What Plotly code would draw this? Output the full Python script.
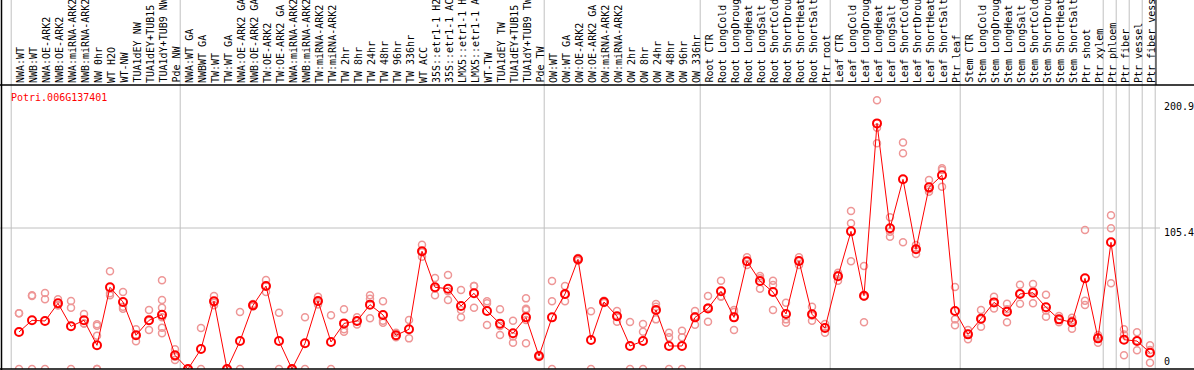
import plotly.graph_objects as go

gene = "Potri.006G137401"

labels = [
    "NWA:WT", "NWB:WT", "NWA:OE-ARK2", "NWB:OE-ARK2", "NWA:miRNA-ARK2", "NWB:miRNA-ARK2",
    "NW 0hr", "WT H2O", "WT-NW", "TUA1dEY NW", "TUA1dEY+TUB15", "TUA1dY+TUB9 NW", "Pde NW",
    "NWA:WT GA", "NWBWT GA", "TW:WT", "TW:WT GA", "NWA:OE-ARK2 GA", "NWB:OE-ARK2 GA",
    "TW:OE-ARK2", "TW:OE-ARK2 GA", "NWA:miRNA-ARK2", "NWB:miRNA-ARK2", "TW:miRNA-ARK2",
    "TW:miRNA-ARK2", "TW 2hr", "TW 8hr", "TW 24hr", "TW 48hr", "TW 96hr", "TW 336hr",
    "WT ACC", "35S::etr1-1 H2", "35S::etr1-1 AC", "LMX5::etr1-1 H", "LMX5::etr1-1 A",
    "WT-TW", "TUA1dEY TW", "TUA1dEY+TUB15", "TUA1dY+TUB9 TW", "Pde TW",
    "OW:WT", "OW:WT GA", "OW:OE-ARK2", "OW:OE-ARK2 GA", "OW:miRNA-ARK2", "OW:miRNA-ARK2",
    "OW 2hr", "OW 8hr", "OW 24hr", "OW 48hr", "OW 96hr", "OW 336hr",
    "Root CTR", "Root LongCold", "Root LongDroug", "Root LongHeat", "Root LongSalt",
    "Root ShortCold", "Root ShortDrou", "Root ShortHeat", "Root ShortSalt", "Ptr root",
    "Leaf CTR", "Leaf LongCold", "Leaf LongDroug", "Leaf LongHeat", "Leaf LongSalt",
    "Leaf ShortCold", "Leaf ShortDrou", "Leaf ShortHeat", "Leaf ShortSalt", "Ptr leaf",
    "Stem CTR", "Stem LongCold", "Stem LongDroug", "Stem LongHeat", "Stem LongSalt",
    "Stem ShortCold", "Stem ShortDrou", "Stem ShortHeat", "Stem ShortSalt", "Ptr shoot",
    "Ptr xylem", "Ptr phloem", "Ptr fiber", "Ptr vessel", "Ptr fiber vessel",
]

means = [
    27.7, 36.4, 35.9, 49.1, 31.9, 36.4, 17.7, 61.1, 50.1, 25.2, 36.4, 40.6, 10.2,
    0, 14.9, 50.6, 0, 20.9, 47.6, 62.0, 20.9, 0, 19.2, 50.8, 20.2, 34.1, 35.9, 48.1,
    40.4, 25.2, 29.7, 88.0, 61.1, 60.0, 47.1, 56.6, 43.3, 33.9, 26.7, 38.6, 9.7,
    38.6, 56.1, 82.0, 21.7, 50.1, 39.4, 17.2, 20.9, 44.1, 17.2, 17.2, 38.6,
    45.3, 58.1, 38.6, 80.5, 65.8, 57.5, 41.1, 80.7, 40.9, 30.6,
    69.3, 102.9, 54.8, 183.6, 105.2, 141.8, 89.5, 135.8, 144.8, 43.3,
    25.9, 37.6, 49.8, 42.8, 56.1, 57.0, 46.1, 37.1, 34.9, 67.8, 22.9,
    94.7, 21.9, 20.9, 12.2,
]

replicates = [
    [41.6, 41.6, 0], [55.1, 54.6, 0], [56.8, 52.1, 0], [52.1, 47.6, 47.6], [50.8, 45.8, 0],
    [41.1, 34.1, 34.0], [33.4, 32.4, 24.9, 0, 0], [73.0, 56.6, 55.1], [57.5, 46.6, 45.1],
    [29.7, 25.2, 20.7], [44.1, 36.0, 29.1], [66.3, 51.6, 45.8, 38.6, 30.9, 26.7],
    [14.7, 9.2, 6.7], [0, 0, 0], [30.6, 0], [54.6, 49.6, 47.6], [0, 0, 0], [42.6, 0],
    [48.5, 47.6, 46.7], [66.5, 57.5, 62.0], [42.1, 0], [0, 0, 0], [38.6, 0],
    [54.0, 50.1, 48.3], [40.1, 0], [44.6, 29.8, 27.9], [38.6, 35.9, 33.2],
    [55.1, 52.5, 37.9], [50.6, 36.1, 34.6], [27.1, 24.7, 23.8], [36.6, 22.9],
    [92.9, 87.2, 83.9], [68.0, 60.2, 55.1], [70.3, 58.1, 51.6], [59.0, 44.1, 38.6],
    [62.0, 62.0, 45.8], [50.6, 49.1, 32.9], [44.6, 32.1, 25.4], [36.1, 24.3, 19.7],
    [52.8, 45.1, 44.1, 36.6, 19.2], [10.5, 9.7, 9.0], [65.8, 50.6, 0], [62.0, 55.7, 50.6],
    [83.0, 82.0, 81.0], [43.1, 0], [51.0, 50.0, 49.3], [43.3, 39.5, 35.4], [35.1, 0],
    [33.6, 27.9, 0], [48.6, 46.6, 37.1], [27.1, 23.7, 0], [28.6, 23.7, 0],
    [43.3, 39.4, 33.1], [54.6, 45.9, 35.4], [66.0, 54.3, 54.0], [44.1, 42.6, 29.1],
    [83.5, 80.5, 77.7], [69.5, 67.8, 60.0], [66.0, 62.8, 44.1], [49.6, 37.1, 34.6],
    [83.5, 80.7, 77.8], [46.6, 40.0, 36.1], [33.6, 31.2, 27.1],
    [72.0, 70.5, 66.0], [118.1, 108.9, 80.5], [77.0, 54.0, 34.9], [200.9, 180.3, 168.7],
    [113.4, 102.6, 98.9], [169.4, 161.2, 94.7], [92.7, 89.9, 85.9], [141.3, 134.3, 132.5],
    [150.0, 148.7, 136.2], [61.3, 37.1, 32.7],
    [29.1, 26.4, 22.2], [44.1, 37.1, 31.6], [54.0, 50.1, 45.3], [48.8, 44.7, 34.9],
    [63.0, 56.5, 48.8], [63.5, 58.4, 49.1], [55.5, 43.7, 39.1], [39.6, 36.8, 34.9],
    [38.3, 36.3, 30.1], [103.9, 51.0, 47.8], [25.4, 23.6, 19.7],
    [114.9, 105.2, 64.1], [29.7, 25.8, 10.2], [27.4, 21.3, 14.0], [17.7, 14.2, 4.7],
]

# last column index of each group before a separator (0 = before the first column)
group_breaks = [0, 13, 41, 53, 63, 73, 84, 85, 86, 87, 88]
y_ticks = [0, 105.4, 200.9]
y_tick_text = ["0", "105.4", "200.9"]

W, H = 1194, 370
TOP, BOT = 85, 1
YMAX = 212.3
STEP = 13.0
X0 = 1 - 19 / STEP
X1 = X0 + W / STEP
top_paper = (H - BOT) / (H - TOP - BOT)

xs = list(range(1, len(means) + 1))
rep_x, rep_y = [], []
for i, reps in zip(xs, replicates):
    for v in reps:
        rep_x.append(i)
        rep_y.append(v)

fig = go.Figure()
fig.add_trace(go.Scatter(
    x=rep_x, y=rep_y, mode="markers",
    marker=dict(symbol="circle-open", size=7, color="rgb(238,150,150)",
                line=dict(width=1.5, color="rgb(238,150,150)")),
    hoverinfo="skip", showlegend=False,
))
fig.add_trace(go.Scatter(
    x=xs, y=means, mode="lines+markers",
    line=dict(color="#ff0000", width=1),
    marker=dict(symbol="circle-open", size=8, color="#ff0000",
                line=dict(width=2, color="#ff0000")),
    showlegend=False,
))

shapes = []
grey = "rgb(192,192,192)"
for b in group_breaks:
    xp = (b + 0.4 - X0) / (X1 - X0)
    shapes.append(dict(type="line", xref="paper", yref="paper", x0=xp, x1=xp,
                       y0=0, y1=top_paper, line=dict(color=grey, width=1), layer="below"))
shapes.append(dict(type="line", xref="paper", yref="y", x0=0, x1=1160 / W,
                   y0=105.4, y1=105.4, line=dict(color=grey, width=1), layer="below"))
# frame lines
shapes.append(dict(type="line", xref="paper", yref="paper", x0=1.5 / W, x1=1.5 / W,
                   y0=-0.01, y1=top_paper, line=dict(color="black", width=1.5)))
shapes.append(dict(type="line", xref="paper", yref="paper", x0=0, x1=1, y0=1, y1=1,
                   line=dict(color="black", width=1.5)))
shapes.append(dict(type="line", xref="paper", yref="paper", x0=0, x1=1, y0=0, y1=0,
                   line=dict(color="black", width=1.5)))
shapes.append(dict(type="line", xref="paper", yref="paper", x0=1156 / W, x1=1156 / W,
                   y0=1, y1=top_paper, line=dict(color="black", width=1)))

annotations = []
font = dict(family="DejaVu Sans Mono", size=10, color="black")
for i, lab in zip(xs, labels):
    annotations.append(dict(x=i, y=1, xref="x", yref="paper", text=lab, textangle=-90,
                            xanchor="center", yanchor="bottom", showarrow=False,
                            font=font, xshift=1, yshift=1, borderpad=0))
shifts = {0: 7.3, 105.4: -4, 200.9: -6.5}
for v, t in zip(y_ticks, y_tick_text):
    annotations.append(dict(x=1163 / W, y=v, xref="paper", yref="y", text=t,
                            xanchor="left", yanchor="middle", showarrow=False,
                            font=font, yshift=shifts[v], borderpad=0))
annotations.append(dict(x=10 / W, y=(H - BOT - 97) / (H - TOP - BOT), xref="paper", yref="paper",
                        text=gene, xanchor="left", yanchor="middle", showarrow=False,
                        font=dict(family="DejaVu Sans Mono", size=10, color="#ff0000"),
                        borderpad=0))

fig.update_layout(
    width=W, height=H,
    margin=dict(l=0, r=0, t=TOP, b=BOT, pad=0),
    paper_bgcolor="white", plot_bgcolor="white",
    xaxis=dict(range=[X0, X1], visible=False, fixedrange=True),
    yaxis=dict(range=[0, YMAX], visible=False, fixedrange=True),
    shapes=shapes, annotations=annotations, showlegend=False,
)
fig.write_html("out.html", config={"displayModeBar": False},
               post_script="document.body.style.margin='0';document.body.style.padding='0';")
